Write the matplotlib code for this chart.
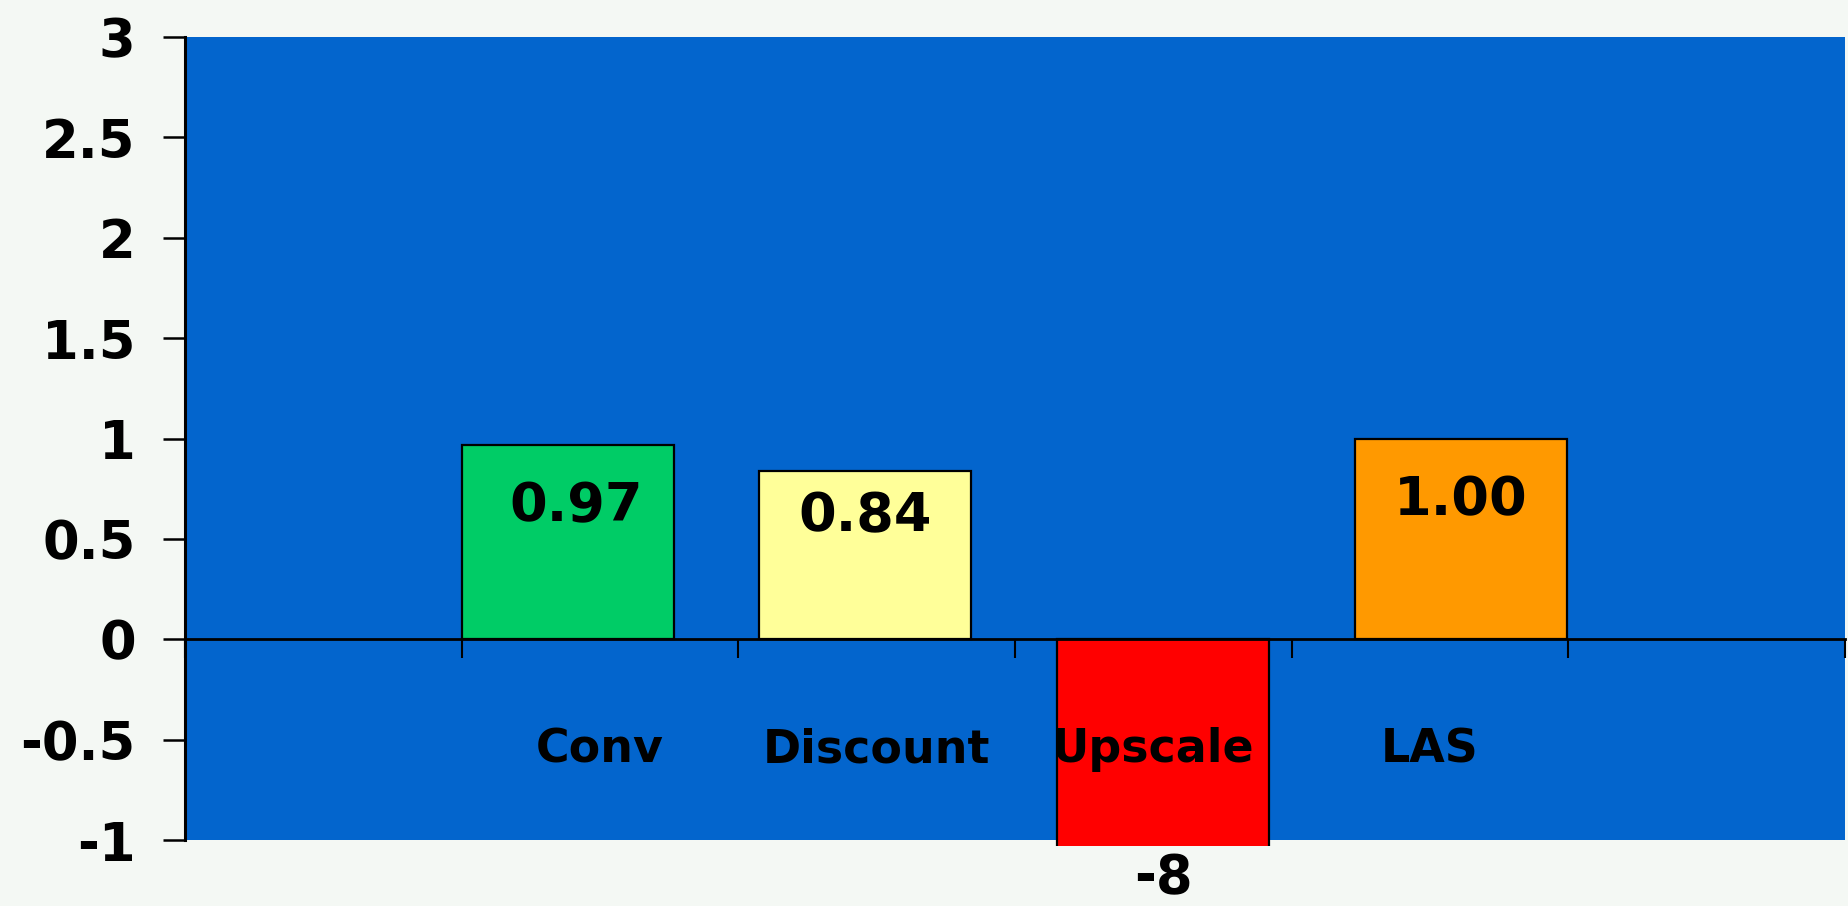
import matplotlib
matplotlib.use("Agg")
import matplotlib.pyplot as plt
from matplotlib.patches import Rectangle
import numpy as np

# Data
categories = ["Conv", "Discount", "Upscale", "LAS"]
values = [0.97, 0.84, -8, 1.00]
value_labels = ["0.97", "0.84", "-8", "1.00"]
bar_colors = ["#00CC66", "#FFFF99", "#FF0000", "#FF9900"]
y_ticks = [-1, -0.5, 0, 0.5, 1, 1.5, 2, 2.5, 3]
y_tick_labels = ["-1", "-0.5", "0", "0.5", "1", "1.5", "2", "2.5", "3"]

FONT = "DejaVu Sans"
BG = "#F4F8F4"
PLOT_BG = "#0365CD"

fig = plt.figure(figsize=(18.48, 9.06), dpi=100, facecolor=BG)
ax = fig.add_axes([0.1001, 0.0728, 0.8983, 0.8864])
ax.set_facecolor(PLOT_BG)

ymin, ymax = -1, 3
ax.set_xlim(0, 6)
ax.set_ylim(ymin, ymax)

# bars sit slightly offset from the category slots
n = len(values)
width = 0.766
step = 1.076
centers = 1.0 + width / 2 + step * np.arange(n)
bars = ax.bar(centers, values, width=width, color=bar_colors,
              edgecolor="black", linewidth=1.6, zorder=3)

# let the deep negative bar run a touch past the lower frame
clip = Rectangle((0, -0.008), 1, 1.016, transform=ax.transAxes)
for b in bars:
    b.set_clip_path(clip)

# value labels
for i, (c, v, lab) in enumerate(zip(centers, values, value_labels)):
    if v >= ymin:
        off = -0.31 if lab != "0.84" else -0.23
        dx = 0.03 if i == 0 else 0.0
        ax.text(c + dx, v + off, lab, ha="center", va="center",
                fontsize=39, fontweight="bold", family=FONT, zorder=4)
    else:
        ax.text(c, ymin - 0.19, lab, ha="center", va="center",
                fontsize=38, fontweight="bold", family=FONT, zorder=4,
                clip_on=False)

# category names inside the plot, below the zero line
for i, name in enumerate(categories):
    ax.text(1.5 + i, -0.55, name, ha="center", va="center",
            fontsize=33, fontweight="bold", family=FONT, zorder=5)

# axes styling
for s in ["top", "right"]:
    ax.spines[s].set_visible(False)
ax.spines["bottom"].set_position(("data", 0))
ax.spines["bottom"].set_linewidth(2)
ax.spines["bottom"].set_zorder(4)
ax.spines["left"].set_linewidth(2.2)

ax.set_xticks(np.arange(0, 7))
ax.set_xticklabels([])
ax.tick_params(axis="x", direction="out", length=14, width=1.5, color="black")

ax.set_yticks(y_ticks)
ax.set_yticklabels(y_tick_labels, fontsize=38, fontweight="bold", family=FONT)
ax.tick_params(axis="y", direction="out", length=15.5, width=1.8, pad=20)

fig.savefig("out.png", dpi=100, facecolor=BG)
